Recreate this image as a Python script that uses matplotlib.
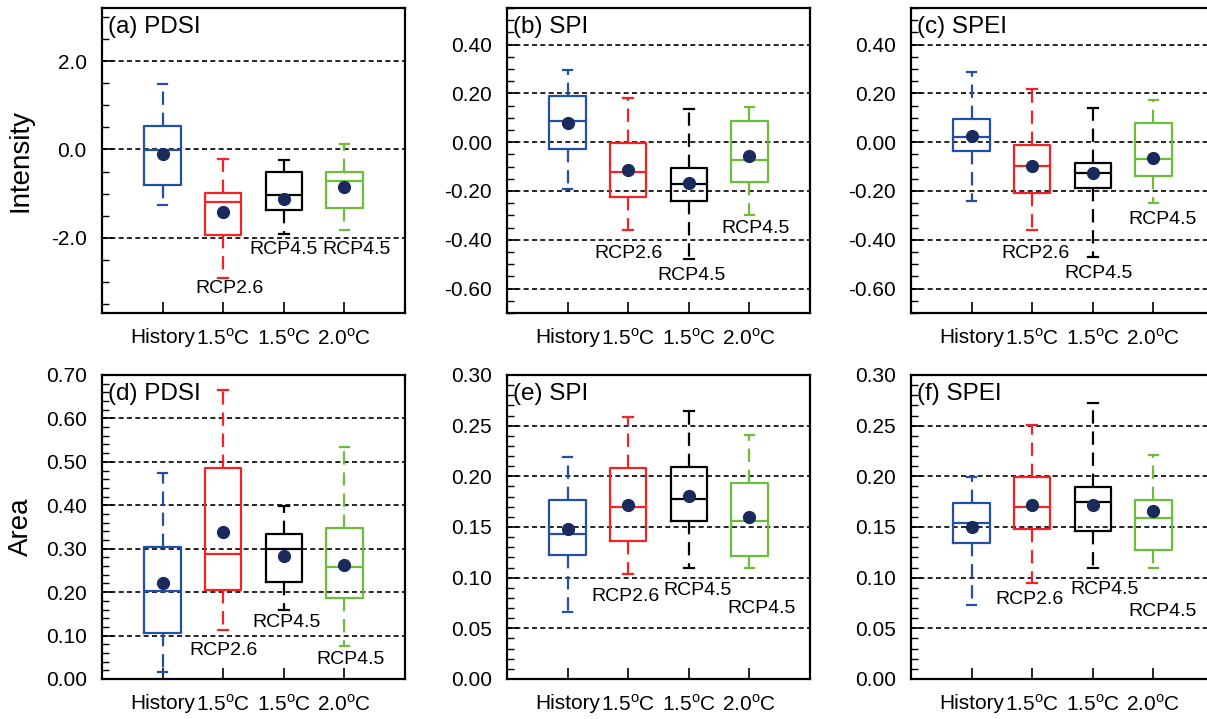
import matplotlib
matplotlib.use("Agg")
import matplotlib.pyplot as plt
from matplotlib.ticker import MultipleLocator, FormatStrFormatter

plt.rcParams['font.family'] = ['Liberation Sans', 'DejaVu Sans']
plt.rcParams['mathtext.fontset'] = 'custom'
plt.rcParams['mathtext.rm'] = 'Liberation Sans'
plt.rcParams['axes.unicode_minus'] = False

# categories / scenario labels
cats = ['History', '1.5$^{\\mathrm{o}}$C', '1.5$^{\\mathrm{o}}$C', '2.0$^{\\mathrm{o}}$C']
scen = ['', 'RCP2.6', 'RCP4.5', 'RCP4.5']
colors = ['#2350a6', '#f42222', '#000000', '#6cbd38']
mean_color = '#1b2a5c'

# box stats per panel: [whislo, q1, med, q3, whishi, mean] for each category
pdsi_int = [[-1.25, -0.80, -0.01, 0.54, 1.47, -0.11],
            [-2.90, -1.93, -1.20, -0.99, -0.21, -1.42],
            [-1.91, -1.36, -1.04, -0.52, -0.25, -1.12],
            [-1.82, -1.32, -0.72, -0.50, 0.13, -0.85]]
spi_int = [[-0.193, -0.029, 0.085, 0.19, 0.297, 0.080],
           [-0.359, -0.224, -0.124, -0.005, 0.180, -0.114],
           [-0.479, -0.241, -0.171, -0.107, 0.136, -0.167],
           [-0.300, -0.162, -0.072, 0.087, 0.144, -0.056]]
spei_int = [[-0.241, -0.036, 0.020, 0.094, 0.289, 0.027],
            [-0.359, -0.210, -0.097, -0.012, 0.218, -0.097],
            [-0.471, -0.188, -0.127, -0.084, 0.142, -0.125],
            [-0.249, -0.137, -0.068, 0.077, 0.174, -0.066]]
pdsi_area = [[0.016, 0.105, 0.202, 0.305, 0.475, 0.221],
             [0.112, 0.206, 0.287, 0.486, 0.666, 0.339],
             [0.160, 0.223, 0.300, 0.333, 0.398, 0.283],
             [0.075, 0.187, 0.258, 0.348, 0.534, 0.262]]
spi_area = [[0.066, 0.122, 0.143, 0.1765, 0.219, 0.148],
            [0.104, 0.136, 0.170, 0.208, 0.259, 0.172],
            [0.110, 0.156, 0.178, 0.209, 0.264, 0.181],
            [0.110, 0.121, 0.156, 0.193, 0.241, 0.160]]
spei_area = [[0.073, 0.1345, 0.1535, 0.174, 0.199, 0.150],
             [0.095, 0.148, 0.170, 0.199, 0.251, 0.172],
             [0.110, 0.146, 0.175, 0.189, 0.272, 0.172],
             [0.110, 0.127, 0.159, 0.177, 0.221, 0.166]]

# scenario label anchor (x, y) in data units
lab_a = [(2.1, -3.15), (3.0, -2.27), (4.2, -2.27)]
lab_b = [(2.0, -0.456), (3.05, -0.546), (4.1, -0.354)]
lab_c = [(2.05, -0.456), (3.1, -0.538), (4.15, -0.316)]
lab_d = [(2.0, 0.065), (3.05, 0.130), (4.1, 0.045)]
lab_e = [(1.95, 0.081), (3.15, 0.087), (4.2, 0.070)]
lab_f = [(1.95, 0.078), (3.2, 0.088), (4.15, 0.067)]

panels = [
    ('(a) PDSI', pdsi_int, lab_a, (-3.7, 3.2), 2.0, 0.5, '%.1f'),
    ('(b) SPI', spi_int, lab_b, (-0.7, 0.55), 0.2, 0.05, '%.2f'),
    ('(c) SPEI', spei_int, lab_c, (-0.7, 0.55), 0.2, 0.05, '%.2f'),
    ('(d) PDSI', pdsi_area, lab_d, (0.0, 0.7), 0.1, 0.02, '%.2f'),
    ('(e) SPI', spi_area, lab_e, (0.0, 0.3), 0.05, 0.01, '%.2f'),
    ('(f) SPEI', spei_area, lab_f, (0.0, 0.3), 0.05, 0.01, '%.2f'),
]

W, H = 1207, 719
fig = plt.figure(figsize=(W / 100, H / 100), dpi=100)
lefts = [102, 507, 911]
rows = [(8, 313), (375, 679)]

for i, (title, data, labs, ylim, major, minor, fmt) in enumerate(panels):
    top, bot = rows[i // 3]
    left = lefts[i % 3]
    ax = fig.add_axes([left / W, (H - bot) / H, 303 / W, (bot - top) / H])
    for j, d in enumerate(data):
        st = dict(whislo=d[0], q1=d[1], med=d[2], q3=d[3], whishi=d[4], mean=d[5], fliers=[])
        c = colors[j]
        ax.bxp([st], positions=[j + 1], widths=0.6, capwidths=0.16, showmeans=True,
               boxprops=dict(color=c, lw=1.6),
               medianprops=dict(color=c, lw=1.6),
               whiskerprops=dict(color=c, lw=1.6, linestyle=(0, (6, 3.5))),
               capprops=dict(color=c, lw=1.6),
               meanprops=dict(marker='o', markerfacecolor=mean_color,
                              markeredgecolor=mean_color, markersize=8.5),
               manage_ticks=False)
    for (x, y), s in zip(labs, scen[1:]):
        ax.text(x, y, s, ha='center', va='center', fontsize=14)
    ax.set_xlim(0, 5)
    ax.set_ylim(*ylim)
    ax.set_xticks(range(1, 5))
    ax.set_xticklabels(cats, fontsize=15)
    ax.yaxis.set_major_locator(MultipleLocator(major))
    ax.yaxis.set_minor_locator(MultipleLocator(minor))
    ax.yaxis.set_major_formatter(FormatStrFormatter(fmt))
    ax.tick_params(axis='both', which='major', direction='in', length=8, width=1.2,
                   labelsize=15, pad=11, top=False, right=False)
    ax.tick_params(axis='y', which='minor', direction='in', length=5, width=1.0, right=False)
    ax.tick_params(axis='x', which='minor', bottom=False, top=False)
    ax.grid(axis='y', which='major', color='k', lw=1.2, linestyle=(0, (3, 2)))
    ax.set_axisbelow(True)
    for sp in ax.spines.values():
        sp.set_linewidth(1.6)
    ax.text(0.02, 0.975, title, transform=ax.transAxes, ha='left', va='top', fontsize=17.5)
    if i % 3 == 0:
        ax.set_ylabel('Intensity' if i == 0 else 'Area', fontsize=20)
        ax.yaxis.set_label_coords(-0.225, 0.5)

fig.savefig('out.png', dpi=100)
